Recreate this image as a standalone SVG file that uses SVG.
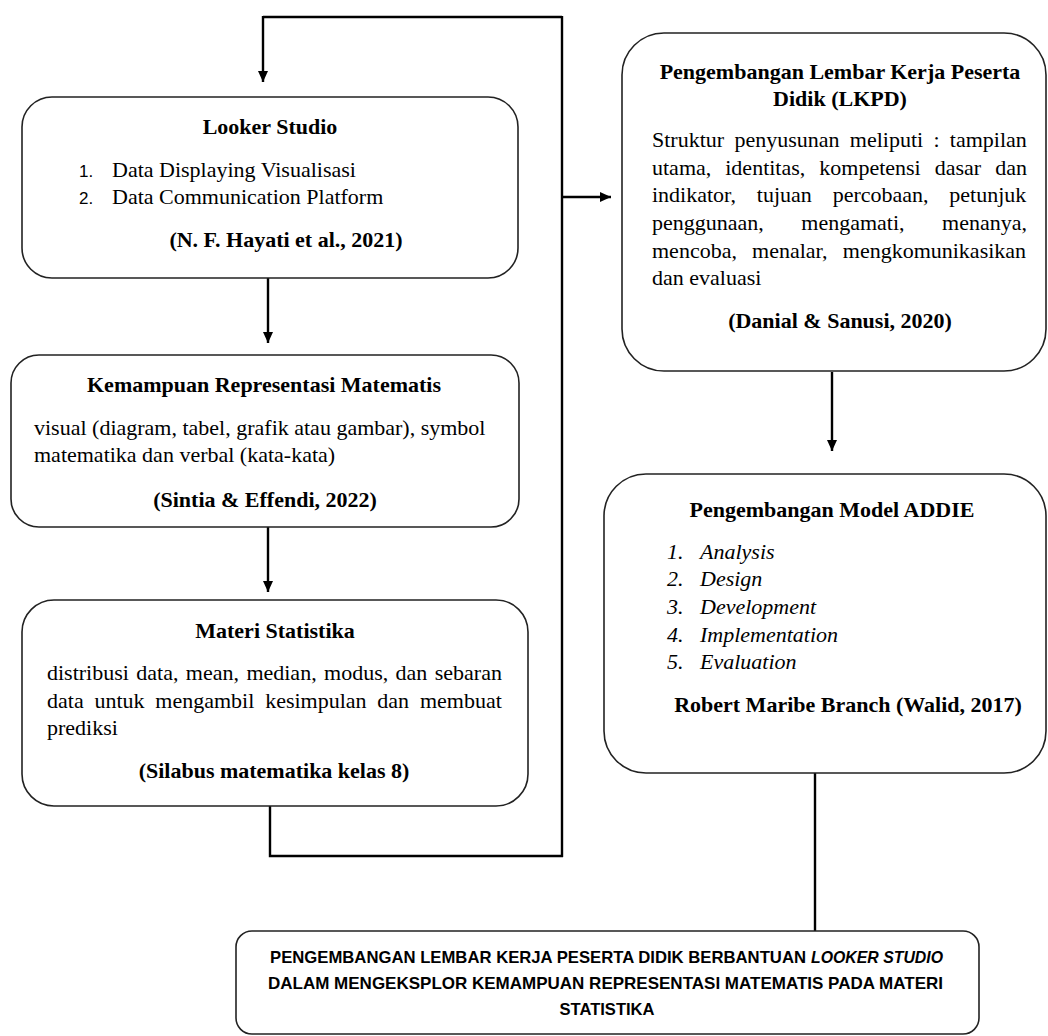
<svg xmlns="http://www.w3.org/2000/svg" width="1048" height="1036" viewBox="0 0 1048 1036">
<defs>
<marker id="ah" markerUnits="userSpaceOnUse" markerWidth="11" markerHeight="10" refX="11" refY="5" orient="auto">
<path d="M0,0 L11,5 L0,10 z" fill="#000"/>
</marker>
<style>
.box{fill:#fff;stroke:#222;stroke-width:1.6}
.ln{fill:none;stroke:#000;stroke-width:2.4}
.t{font-family:"Liberation Serif","Times New Roman",serif;font-size:22px;fill:#000}
.b{font-weight:bold}
.i{font-style:italic}
.m{text-anchor:middle}
.n{font-family:"Liberation Sans",Arial,sans-serif;font-size:17px;fill:#000}
.c{font-family:"Liberation Sans",Arial,sans-serif;font-size:16.5px;font-weight:bold;fill:#000}
</style>
</defs>
<rect width="1048" height="1036" fill="#fff"/>
<g id="connectors">
<polyline class="ln" points="263,17 562,17"/>
<line class="ln" x1="263" y1="16" x2="263" y2="82" marker-end="url(#ah)"/>
<line class="ln" x1="562" y1="16" x2="562" y2="857"/>
<line class="ln" x1="562" y1="197" x2="611" y2="197" marker-end="url(#ah)"/>
<line class="ln" x1="268" y1="278" x2="268" y2="343" marker-end="url(#ah)"/>
<line class="ln" x1="268" y1="527" x2="268" y2="592" marker-end="url(#ah)"/>
<polyline class="ln" points="270,806 270,856 563,856"/>
<line class="ln" x1="832" y1="372" x2="832" y2="451" marker-end="url(#ah)"/>
<line class="ln" x1="815" y1="773" x2="815" y2="931"/>
</g>
<g id="looker">
<rect class="box" x="22" y="97" width="496" height="181" rx="30"/>
<text class="t b m" x="270" y="134">Looker Studio</text>
<text class="n" x="79" y="177">1.</text>
<text class="t" x="112" y="177">Data Displaying Visualisasi</text>
<text class="n" x="79" y="204">2.</text>
<text class="t" x="112" y="204">Data Communication Platform</text>
<text class="t b m" x="286" y="247">(N. F. Hayati et al., 2021)</text>
</g>
<g id="kemampuan">
<rect class="box" x="11" y="355" width="508" height="172" rx="28"/>
<text class="t b m" x="264" y="392">Kemampuan Representasi Matematis</text>
<text class="t" x="34" y="435">visual (diagram, tabel, grafik atau gambar), symbol</text>
<text class="t" x="34" y="462">matematika dan verbal (kata-kata)</text>
<text class="t b m" x="265" y="507">(Sintia &amp; Effendi, 2022)</text>
</g>
<g id="materi">
<rect class="box" x="22" y="600" width="506" height="206" rx="32"/>
<text class="t b m" x="275" y="638">Materi Statistika</text>
<text class="t" x="47" y="680" word-spacing="1.9">distribusi data, mean, median, modus, dan sebaran</text>
<text class="t" x="47" y="708" word-spacing="5.3">data untuk mengambil kesimpulan dan membuat</text>
<text class="t" x="47" y="735">prediksi</text>
<text class="t b m" x="274" y="778">(Silabus matematika kelas 8)</text>
</g>
<g id="lkpd">
<rect class="box" x="622" y="33" width="424" height="338" rx="42"/>
<text class="t b m" x="840" y="79">Pengembangan Lembar Kerja Peserta</text>
<text class="t b m" x="840" y="106">Didik (LKPD)</text>
<text class="t" x="652" y="147" word-spacing="4.8">Struktur penyusunan meliputi : tampilan</text>
<text class="t" x="652" y="175" word-spacing="8.5">utama, identitas, kompetensi dasar dan</text>
<text class="t" x="652" y="202" word-spacing="15.3">indikator, tujuan percobaan, petunjuk</text>
<text class="t" x="652" y="230" word-spacing="32">penggunaan, mengamati, menanya,</text>
<text class="t" x="652" y="258" word-spacing="9.7">mencoba, menalar, mengkomunikasikan</text>
<text class="t" x="652" y="285">dan evaluasi</text>
<text class="t b m" x="840" y="328">(Danial &amp; Sanusi, 2020)</text>
</g>
<g id="addie">
<rect class="box" x="604" y="474" width="442" height="299" rx="42"/>
<text class="t b m" x="832" y="517">Pengembangan Model ADDIE</text>
<text class="t i" x="667" y="559">1.</text><text class="t i" x="700" y="559">Analysis</text>
<text class="t i" x="667" y="586">2.</text><text class="t i" x="700" y="586">Design</text>
<text class="t i" x="667" y="614">3.</text><text class="t i" x="700" y="614">Development</text>
<text class="t i" x="667" y="642">4.</text><text class="t i" x="700" y="642">Implementation</text>
<text class="t i" x="667" y="669">5.</text><text class="t i" x="700" y="669">Evaluation</text>
<text class="t b m" x="848" y="712">Robert Maribe Branch (Walid, 2017)</text>
</g>
<g id="judul">
<rect class="box" x="236" y="931" width="743" height="103" rx="16"/>
<text class="c" x="270" y="963" textLength="536" lengthAdjust="spacingAndGlyphs">PENGEMBANGAN LEMBAR KERJA PESERTA DIDIK BERBANTUAN</text>
<text class="c i" x="811" y="963" textLength="132" lengthAdjust="spacingAndGlyphs">LOOKER STUDIO</text>
<text class="c" x="268" y="989" textLength="675" lengthAdjust="spacingAndGlyphs">DALAM MENGEKSPLOR KEMAMPUAN REPRESENTASI MATEMATIS PADA MATERI</text>
<text class="c m" x="607" y="1015" textLength="95" lengthAdjust="spacingAndGlyphs">STATISTIKA</text>
</g>
</svg>
